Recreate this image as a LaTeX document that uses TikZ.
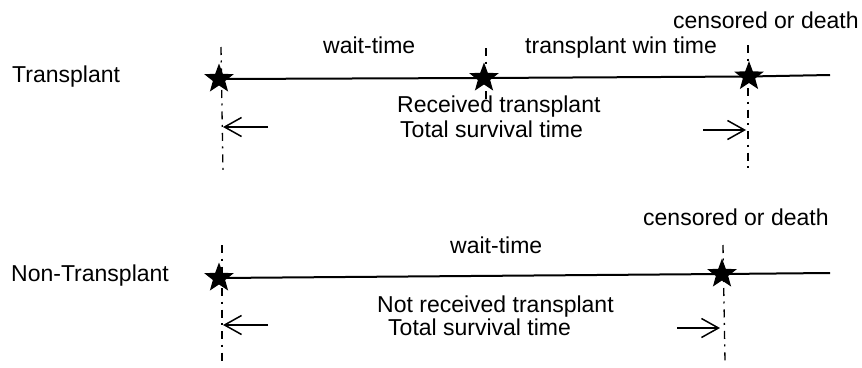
\documentclass[tikz,border=0pt]{standalone}
\usepackage{fontspec}
\setmainfont{Liberation Sans}
\usetikzlibrary{shapes.geometric,arrows.meta}
\begin{document}
\begin{tikzpicture}[x=1pt,y=-1pt,
  lbl/.style={anchor=base west,inner sep=0pt,font=\fontsize{23}{28}\selectfont},
  starmark/.style={star,star points=5,star point ratio=2.4,minimum size=31pt,inner sep=0pt,fill=black,draw=none},
  timeline/.style={line width=2pt},
  guide/.style={line width=1.3pt,dash pattern=on 8pt off 5.5pt on 2pt off 6pt},
  span/.style={line width=1.5pt,-{Straight Barb[length=17pt,width=19pt,line width=1.5pt]}}]
\useasboundingbox (0,0) rectangle (862,367);
% ---- top row ----
\coordinate (t1a) at (221,47); \coordinate (t1b) at (223,172);
\coordinate (t2a) at (486,48); \coordinate (t2b) at (486,100);
\coordinate (t3a) at (748,45); \coordinate (t3b) at (748,172);
\coordinate (tend) at (830,75);
\draw[guide] (t1a) -- (t1b);
\draw[guide] (t2a) -- (t2b);
\draw[guide] (t3a) -- (t3b);
\node[starmark] (s1) at (219,79) {};
\node[starmark] (s2) at (484,78) {};
\node[starmark] (s3) at (749,76.5) {};
\draw[timeline] (s1.center) -- (s2.center) -- (s3.center) -- (tend);
\node[lbl] (ltr) at (12,82) {Transplant};
\node[lbl] (lw1) at (323,53) {wait-time};
\node[lbl] (lwin) at (525,53) {transplant win time};
\node[lbl] (lc1) at (673,28) {censored or death};
\node[lbl] (lrec) at (397,112) {Received transplant};
\node[lbl] (ltot1) at (400,137) {Total survival time};
\coordinate (a1s) at (268,127); \coordinate (a1e) at (223,127);
\coordinate (a2s) at (703,130); \coordinate (a2e) at (746,130);
\draw[span] (a1s) -- (a1e);
\draw[span] (a2s) -- (a2e);
% ---- bottom row ----
\coordinate (b1a) at (222,245); \coordinate (b1b) at (222,362);
\coordinate (b2a) at (723,245); \coordinate (b2b) at (725,362);
\coordinate (bend) at (830,273);
\draw[guide] (b1a) -- (b1b);
\draw[guide] (b2a) -- (b2b);
\node[starmark] (s4) at (219,278) {};
\node[starmark] (s5) at (722,274) {};
\draw[timeline] (s4.center) -- (s5.center) -- (bend);
\node[lbl] (lnt) at (11,281) {Non-Transplant};
\node[lbl] (lw2) at (450,253) {wait-time};
\node[lbl] (lc2) at (643,225) {censored or death};
\node[lbl] (lnrec) at (377,312) {Not received transplant};
\node[lbl] (ltot2) at (388,335) {Total survival time};
\coordinate (a3s) at (268,325); \coordinate (a3e) at (223,325);
\coordinate (a4s) at (677,328); \coordinate (a4e) at (720,328);
\draw[span] (a3s) -- (a3e);
\draw[span] (a4s) -- (a4e);
\end{tikzpicture}
\end{document}
